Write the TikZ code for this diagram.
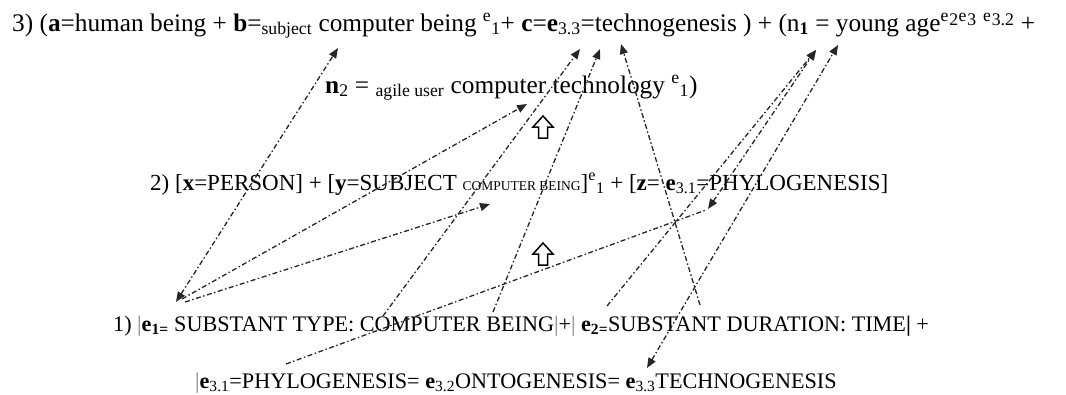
\documentclass[tikz,border=0pt]{standalone}
\usepackage{fontspec}
\setmainfont{Liberation Serif}
\usetikzlibrary{arrows.meta}
\newcommand\eix[1]{\textsuperscript{e}\textsubscript{#1}}
\newcommand\eup[1]{\textsuperscript{e\kern0.05em\raisebox{-0.4ex}{#1}}}
\begin{document}
\begin{tikzpicture}[x=1pt,y=-1pt,
  txt/.style={anchor=base west, inner sep=0pt},
  bigtxt/.style={txt, font=\fontsize{25.3}{30}\selectfont},
  midtxt/.style={txt, font=\fontsize{23}{27}\selectfont},
  smltxt/.style={txt, font=\fontsize{22.2}{26}\selectfont},
  link/.style={draw=black!85, line width=1.3pt, dash pattern=on 5pt off 2.5pt on 1.5pt off 2.5pt},
  tip/.style={-{Triangle[length=10pt,width=8pt]}},
  tips/.style={{Triangle[length=10pt,width=8pt]}-{Triangle[length=10pt,width=8pt]}},
  upar/.pic={\draw[line width=1.5pt, fill=white] (0,-11)--(10,0)--(4.5,0)--(4.5,11)--(-4.5,11)--(-4.5,0)--(-10,0)--cycle;}]
\useasboundingbox (0,0) rectangle (1066,394);

% text lines
\node[bigtxt] (l3) at (12,31) {3) (\textbf{a}=human being + \textbf{b}=\textsubscript{subject} computer being \eix{1}+ \textbf{c}=\textbf{e}\textsubscript{3.3}=technogenesis ) + (n\textsubscript{\textbf{1}} = young age\eup{2}\eup{3} \eup{3.2} +};
\node[bigtxt] (ln2) at (325,93) {\textbf{n}\textsubscript{2} = \textsubscript{agile user} computer technology \eix{1})};
\node[midtxt] (l2) at (150,190) {2) [\textbf{x}=PERSON] + [\textbf{y}=SUBJECT {\fontsize{13.5}{15}\selectfont COMPUTER BEING}]\eix{1} + [\textbf{z}= \textbf{e}\textsubscript{3.1}=PHYLOGENESIS]};
\node[smltxt] (l1) at (113,331) {1) {\color{gray}|}\textbf{e\textsubscript{1=}} SUBSTANT TYPE: COMPUTER BEING{\color{gray}|}+{\color{gray}|} \textbf{e\textsubscript{2=}}SUBSTANT DURATION: TIME\textbf{|} +};
\node[smltxt] (l1b) at (195,388) {{\color{gray}|}\textbf{e}\textsubscript{3.1}=PHYLOGENESIS= \textbf{e}\textsubscript{3.2}ONTOGENESIS= \textbf{e}\textsubscript{3.3}TECHNOGENESIS};

% endpoints
\coordinate (eA) at (176,302);
\coordinate (eB) at (182,299);
\coordinate (eC) at (185,302);
\coordinate (cb) at (338,48);
\coordinate (comp) at (527,104);
\coordinate (cbsub) at (490,204);
\coordinate (freeS) at (286,364);
\coordinate (zE) at (706,210);
\coordinate (zEt) at (708,209);
\coordinate (e2) at (607,306);
\coordinate (n1a) at (816,50);
\coordinate (n1b) at (838,45);
\coordinate (e33) at (647,368);
\coordinate (time) at (700,305);
\coordinate (techno) at (621,44);
\coordinate (cmpt) at (383,316);
\coordinate (e33a) at (580,49);
\coordinate (being) at (493,312);
\coordinate (e33b) at (600,49);

% connectors
\draw[link,tips] (eA) -- (cb);
\draw[link,tip] (eB) -- (comp);
\draw[link,tip] (eC) -- (cbsub);
\draw[link] (freeS) -- (zE);
\draw[link,tip] (e2) -- (n1a);
\draw[link,tips] (e33) -- (n1b);
\draw[link,tips] (zEt) -- (n1a);
\draw[link,tip] (time) -- (techno);
\draw[link,tip] (cmpt) -- (e33a);
\draw[link,tip] (being) -- (e33b);

% hollow up arrows
\pic at (543,127) {upar};
\pic at (543,254) {upar};
\end{tikzpicture}
\end{document}
